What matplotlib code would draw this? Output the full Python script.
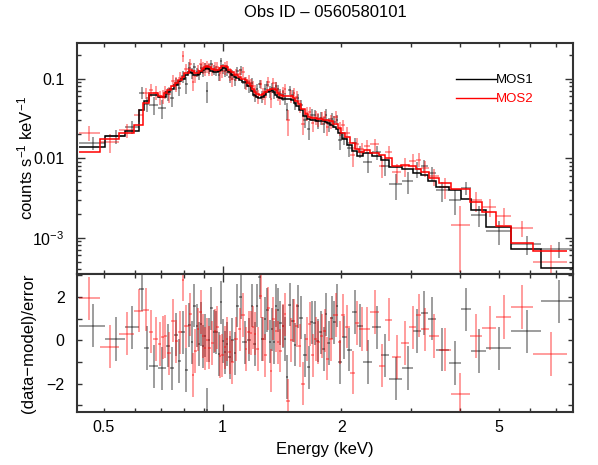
import numpy as np
import matplotlib.pyplot as plt
from matplotlib.ticker import FixedLocator, FuncFormatter, LogLocator, MultipleLocator, NullFormatter
from matplotlib.lines import Line2D

## MOS1 (black): bin edges (keV), folded model, residual, fractional error
mos1_edges = [0.432, 0.505, 0.567, 0.615, 0.633, 0.652, 0.687, 0.719, 0.736, 0.753,
              0.771, 0.784, 0.803, 0.817, 0.831, 0.843, 0.855, 0.865, 0.875, 0.886,
              0.896, 0.906, 0.917, 0.930, 0.944, 0.958, 0.972, 0.983, 0.994, 1.006,
              1.021, 1.035, 1.050, 1.066, 1.081, 1.100, 1.123, 1.156, 1.179, 1.197,
              1.214, 1.232, 1.250, 1.271, 1.290, 1.309, 1.328, 1.343, 1.359, 1.375,
              1.391, 1.411, 1.432, 1.448, 1.469, 1.495, 1.517, 1.539, 1.566, 1.598,
              1.635, 1.669, 1.698, 1.728, 1.758, 1.789, 1.815, 1.841, 1.873, 1.906,
              1.934, 1.962, 2.002, 2.061, 2.128, 2.190, 2.267, 2.396, 2.524, 2.643,
              2.849, 3.036, 3.181, 3.312, 3.470, 3.740, 4.009, 4.249, 4.660, 5.384,
              6.406, 7.80]
mos1_model = [0.0137, 0.0188, 0.022, 0.040, 0.052, 0.062, 0.058, 0.067, 0.075, 0.083,
              0.092, 0.100, 0.112, 0.122, 0.118, 0.112, 0.110, 0.115, 0.122, 0.128,
              0.133, 0.135, 0.132, 0.126, 0.121, 0.120, 0.124, 0.130, 0.135, 0.136,
              0.130, 0.120, 0.112, 0.106, 0.101, 0.096, 0.090, 0.080, 0.070, 0.063,
              0.059, 0.057, 0.059, 0.063, 0.067, 0.070, 0.071, 0.068, 0.063, 0.059,
              0.057, 0.056, 0.056, 0.056, 0.056, 0.054, 0.050, 0.045, 0.040, 0.034,
              0.031, 0.030, 0.0298, 0.0296, 0.0295, 0.029, 0.0285, 0.0275, 0.026, 0.0245,
              0.023, 0.021, 0.0175, 0.0145, 0.0122, 0.0106, 0.0115, 0.0105, 0.0095, 0.0077,
              0.0072, 0.0066, 0.0061, 0.0052, 0.0044, 0.0040, 0.0031, 0.0022, 0.00137, 0.00073,
              0.00042]
mos1_delchi = [0.68, 0.06, 0.60, 2.37, -0.35, -1.20, -1.30, -0.25, -1.30, 0.26,
               -0.95, 0.37, -1.37, 0.70, -0.10, 1.60, 0.68, -0.17, 0.75, -0.28,
               0.22, -3.20, 0.02, 1.48, 0.40, 0.37, -0.63, 1.75, -0.03, -0.55,
               -0.17, -0.78, 0.02, -0.60, 1.60, 2.00, -0.10, 0.03, 1.60, -0.17,
               1.60, 2.90, 0.06, 1.00, 1.40, -0.06, 0.50, -0.10, 1.60, 1.40,
               0.80, 0.65, 0.06, -1.70, 1.65, 0.90, -0.20, 1.57, 1.05, -0.70,
               -1.25, 0.83, 0.80, -0.02, 0.37, -0.40, 1.20, -0.12, 1.05, 0.83,
               1.60, -1.00, 0.14, -0.43, 1.30, 0.68, -1.00, 0.60, -0.70, -1.77,
               -1.28, 0.43, 1.26, 1.00, -0.43, -1.05, 1.43, -0.50, -0.37, 0.42,
               1.80]
mos1_relerr = [0.20, 0.20, 0.20, 0.28, 0.20, 0.20, 0.20, 0.18, 0.18, 0.18,
               0.18, 0.18, 0.18, 0.18, 0.15, 0.15, 0.15, 0.15, 0.15, 0.15,
               0.15, 0.15, 0.15, 0.15, 0.15, 0.15, 0.15, 0.15, 0.15, 0.15,
               0.15, 0.15, 0.15, 0.15, 0.15, 0.17, 0.17, 0.17, 0.17, 0.17,
               0.17, 0.17, 0.17, 0.17, 0.17, 0.17, 0.17, 0.17, 0.17, 0.17,
               0.17, 0.17, 0.17, 0.17, 0.17, 0.17, 0.17, 0.17, 0.17, 0.17,
               0.20, 0.20, 0.20, 0.20, 0.20, 0.20, 0.20, 0.20, 0.20, 0.20,
               0.20, 0.20, 0.20, 0.20, 0.20, 0.20, 0.22, 0.22, 0.22, 0.22,
               0.22, 0.25, 0.25, 0.25, 0.25, 0.25, 0.25, 0.25, 0.30, 0.30,
               0.40]

## MOS2 (red)
mos2_edges = [0.432, 0.488, 0.548, 0.598, 0.629, 0.652, 0.667, 0.687, 0.699, 0.711,
              0.723, 0.740, 0.758, 0.771, 0.789, 0.798, 0.821, 0.836, 0.848, 0.860,
              0.873, 0.886, 0.896, 0.909, 0.920, 0.933, 0.949, 0.963, 0.977, 0.991,
              1.006, 1.021, 1.035, 1.050, 1.066, 1.097, 1.116, 1.139, 1.156, 1.173,
              1.190, 1.203, 1.217, 1.239, 1.260, 1.275, 1.294, 1.316, 1.336, 1.355,
              1.375, 1.391, 1.411, 1.432, 1.452, 1.482, 1.508, 1.530, 1.557, 1.584,
              1.616, 1.649, 1.678, 1.708, 1.733, 1.763, 1.799, 1.831, 1.857, 1.906,
              1.962, 1.996, 2.037, 2.097, 2.171, 2.222, 2.281, 2.361, 2.495, 2.583,
              2.689, 2.833, 2.967, 3.090, 3.181, 3.332, 3.530, 3.783, 4.224, 4.553,
              4.937, 5.384, 6.116, 7.45]
mos2_model = [0.0118, 0.0172, 0.021, 0.026, 0.050, 0.066, 0.066, 0.060, 0.058, 0.066,
              0.072, 0.080, 0.087, 0.096, 0.105, 0.118, 0.127, 0.124, 0.118, 0.118,
              0.126, 0.133, 0.140, 0.143, 0.140, 0.133, 0.128, 0.128, 0.134, 0.142,
              0.145, 0.140, 0.128, 0.120, 0.112, 0.105, 0.100, 0.095, 0.088, 0.080,
              0.073, 0.068, 0.064, 0.062, 0.064, 0.068, 0.072, 0.075, 0.075, 0.071,
              0.066, 0.063, 0.061, 0.061, 0.060, 0.060, 0.057, 0.053, 0.048, 0.042,
              0.036, 0.033, 0.032, 0.032, 0.0315, 0.031, 0.0305, 0.030, 0.029, 0.027,
              0.024, 0.021, 0.0185, 0.0155, 0.013, 0.0118, 0.0128, 0.0116, 0.0108, 0.0100,
              0.0080, 0.0082, 0.0080, 0.0074, 0.0067, 0.0056, 0.0049, 0.0041, 0.0028, 0.0021,
              0.0014, 0.00087, 0.00069]
mos2_delchi = [1.94, -0.30, 0.30, 1.37, 1.42, 0.40, 0.06, -0.17, 0.14, 0.18,
               -0.60, 0.90, -0.05, 0.37, 2.80, 0.65, 1.20, -1.60, -0.50, 0.50,
               1.30, 0.20, -0.37, 0.02, -0.34, -0.12, 0.45, 0.60, -0.74, -0.70,
               -0.32, 0.06, -0.55, -1.00, 0.06, 0.50, 1.17, -0.40, 0.37, 0.34,
               0.60, 0.30, -0.40, 2.05, 0.06, -0.70, 1.48, -1.40, 1.00, 0.45,
               -0.10, -0.48, 0.68, 1.20, -2.80, 0.02, 0.90, 0.68, -0.25, -2.00,
               0.06, 0.75, -0.70, 0.06, -0.10, 0.20, 0.45, -0.85, 0.06, 1.17,
               -0.10, 1.15, 0.63, -1.50, 0.80, 0.52, 0.52, 1.30, -1.17, 0.95,
               -0.77, -0.12, 0.60, 1.15, 0.50, 0.20, -0.43, -2.50, 0.20, 0.57,
               1.08, 1.54, -0.63]
mos2_relerr = [0.40, 0.25, 0.22, 0.25, 0.22, 0.20, 0.20, 0.20, 0.20, 0.20,
               0.20, 0.20, 0.20, 0.20, 0.30, 0.17, 0.17, 0.17, 0.17, 0.17,
               0.17, 0.17, 0.17, 0.17, 0.17, 0.17, 0.17, 0.17, 0.17, 0.17,
               0.17, 0.17, 0.17, 0.17, 0.18, 0.18, 0.18, 0.18, 0.18, 0.18,
               0.18, 0.18, 0.18, 0.18, 0.18, 0.18, 0.18, 0.18, 0.18, 0.18,
               0.18, 0.18, 0.18, 0.18, 0.18, 0.18, 0.18, 0.18, 0.18, 0.18,
               0.20, 0.20, 0.20, 0.20, 0.20, 0.20, 0.20, 0.20, 0.20, 0.20,
               0.20, 0.20, 0.20, 0.20, 0.20, 0.20, 0.22, 0.22, 0.22, 0.22,
               0.22, 0.26, 0.26, 0.26, 0.26, 0.26, 0.26, 0.26, 0.30, 0.30,
               0.32, 0.35, 0.45]

if __name__ == '__main__':
    plt.rcParams['font.family'] = ['Liberation Sans', 'DejaVu Sans']
    plt.rcParams['mathtext.fontset'] = 'custom'
    plt.rcParams['mathtext.rm'] = 'Liberation Sans'
    plt.rcParams['mathtext.it'] = 'Liberation Sans:italic'
    plt.rcParams['mathtext.bf'] = 'Liberation Sans:bold'
    plt.rcParams['axes.unicode_minus'] = True

    frame = '#333333'
    fig = plt.figure(figsize=(5.98, 4.65), dpi=100)
    ax1 = fig.add_axes([0.1288, 0.4108, 0.8294, 0.4967])
    ax2 = fig.add_axes([0.1288, 0.1140, 0.8294, 0.2968], sharex=ax1)

    groups = [(mos1_edges, mos1_model, mos1_delchi, mos1_relerr, 'black'),
              (mos2_edges, mos2_model, mos2_delchi, mos2_relerr, 'red')]

    ## data crosses first, models on top
    for edges, model, delchi, relerr, col in groups:
        edges = np.array(edges)
        model = np.array(model)
        delchi = np.array(delchi)
        err = np.array(relerr) * model
        rate = model + delchi * err
        ctr = 0.5 * (edges[:-1] + edges[1:])
        xerr = [ctr - edges[:-1], edges[1:] - ctr]
        ax1.errorbar(ctr, rate, xerr=xerr, yerr=err, fmt='none',
                     ecolor=col, elinewidth=1.2, alpha=0.45, zorder=2)
        ax2.errorbar(ctr, delchi, xerr=xerr, yerr=np.ones_like(delchi), fmt='none',
                     ecolor=col, elinewidth=1.2, alpha=0.45, zorder=2)
    for edges, model, delchi, relerr, col in groups:
        ax1.stairs(model, edges, baseline=None, color=col, lw=1.1, zorder=3)

    ax1.set_xscale('log')
    ax1.set_yscale('log')
    ax1.set_xlim(0.428, 7.72)
    ax1.set_ylim(3.5e-4, 0.28)
    ax2.set_ylim(-3.31, 3.06)

    ## x ticks: major at 1, minor elsewhere, labels at 0.5 1 2 5
    ax1.xaxis.set_major_locator(FixedLocator([1.0]))
    ax1.xaxis.set_minor_locator(FixedLocator([0.5, 0.6, 0.7, 0.8, 0.9, 2, 3, 4, 5, 6, 7]))
    ax1.xaxis.set_major_formatter(FuncFormatter(lambda v, p: '1'))
    ax1.xaxis.set_minor_formatter(FuncFormatter(
        lambda v, p: {0.5: '0.5', 2.0: '2', 5.0: '5'}.get(round(v, 2), '')))

    ylabels = {-1: '0.1', -2: '0.01', -3: r'$10^{-3}$'}
    ax1.yaxis.set_major_locator(LogLocator(base=10))
    ax1.yaxis.set_minor_locator(LogLocator(base=10, subs=np.arange(2, 10)))
    ax1.yaxis.set_major_formatter(FuncFormatter(
        lambda v, p: ylabels.get(int(round(np.log10(v))), '')))
    ax1.yaxis.set_minor_formatter(NullFormatter())

    ax2.yaxis.set_major_locator(MultipleLocator(2))
    ax2.yaxis.set_minor_locator(MultipleLocator(1))

    for ax in (ax1, ax2):
        ax.tick_params(which='both', direction='in', top=True, right=True,
                       color=frame, width=1.0, labelsize=11.5)
        ax.tick_params(which='major', length=5.5)
        ax.tick_params(which='minor', length=3)
        ax.tick_params(axis='y', which='both', pad=9)
        ax.tick_params(axis='x', which='both', pad=6)
        for s in ax.spines.values():
            s.set_color(frame)
            s.set_linewidth(1.5)
    ax2.tick_params(axis='y', which='both', length=3.5)
    ax1.tick_params(axis='x', which='both', labelbottom=False)

    ax1.set_title('Obs ID \u2013 0560580101', fontsize=12, pad=19)
    ax1.set_ylabel(r'counts s$^{-1}$ keV$^{-1}$', fontsize=12)
    ax2.set_ylabel('(data\u2212model)/error', fontsize=12)
    ax2.set_xlabel('Energy (keV)', fontsize=12, labelpad=5)
    ax1.yaxis.set_label_coords(-0.083, 0.5)
    ax2.yaxis.set_label_coords(-0.083, 0.5)

    handles = [Line2D([], [], color='black', lw=1.0), Line2D([], [], color='red', lw=1.0)]
    ax1.legend(handles, ['MOS1', 'MOS2'], loc='upper left', bbox_to_anchor=(0.765, 0.865),
               frameon=False, fontsize=9.5, handlelength=3.0, handletextpad=0.0,
               labelspacing=0.5, borderpad=0, borderaxespad=0,
               labelcolor=['black', 'red'])

    fig.savefig('out.png', dpi=100)
